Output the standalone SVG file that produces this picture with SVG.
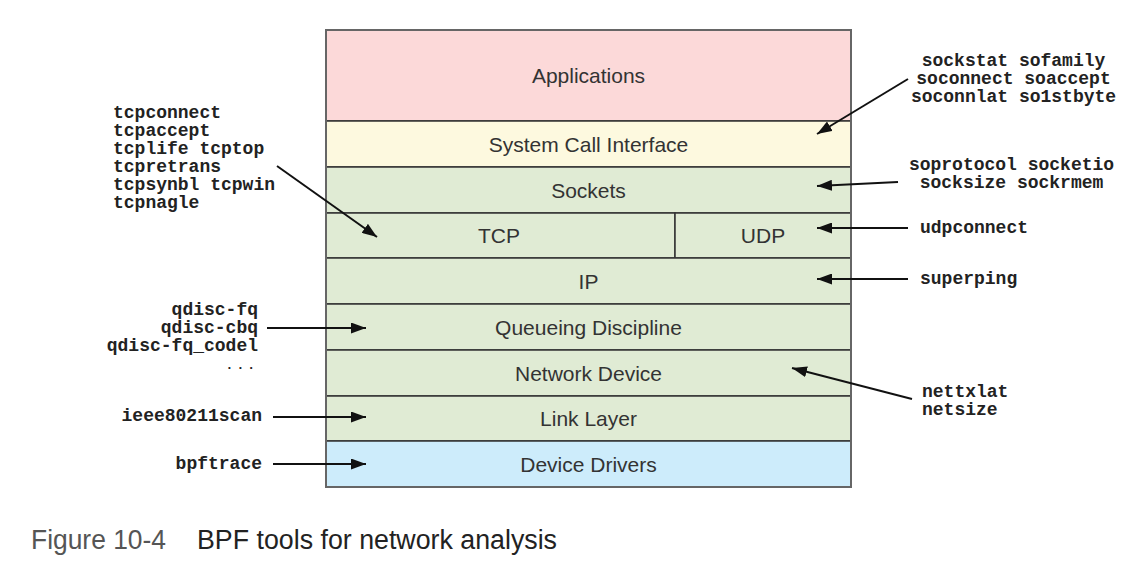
<svg xmlns="http://www.w3.org/2000/svg" width="1141" height="571" viewBox="0 0 1141 571">
<defs>
<marker id="ah" markerUnits="userSpaceOnUse" markerWidth="15" markerHeight="11" refX="15" refY="5.5" orient="auto">
<path d="M0,0 L15,5.5 L0,11 z" fill="#111"/>
</marker>
<style>
.layer{stroke:#333;stroke-width:1.5}
.lbl{font-family:"Liberation Sans",Arial,sans-serif;font-size:21px;fill:#333;text-anchor:middle}
.tool{font-family:"Liberation Mono","Courier New",monospace;font-size:18px;font-weight:bold;fill:#222}
.conn{stroke:#111;stroke-width:2;fill:none;marker-end:url(#ah)}
.cap{font-family:"Liberation Sans",Arial,sans-serif;font-size:27px}
</style>
</defs>
<rect width="1141" height="571" fill="#fff"/>

<g id="applications"><rect class="layer" x="326" y="30" width="525" height="91" fill="#fcd9d9"/><text class="lbl" x="588.5" y="83">Applications</text></g>
<g id="syscall"><rect class="layer" x="326" y="121" width="525" height="46" fill="#fdf9df"/><text class="lbl" x="588.5" y="151.5">System Call Interface</text></g>
<g id="sockets"><rect class="layer" x="326" y="167" width="525" height="46" fill="#e0ebd4"/><text class="lbl" x="588.5" y="197.5">Sockets</text></g>
<g id="tcp"><rect class="layer" x="326" y="213" width="349" height="45" fill="#e0ebd4"/><text class="lbl" x="499" y="243">TCP</text></g>
<g id="udp"><rect class="layer" x="675" y="213" width="176" height="45" fill="#e0ebd4"/><text class="lbl" x="763" y="243">UDP</text></g>
<g id="ip"><rect class="layer" x="326" y="258" width="525" height="46" fill="#e0ebd4"/><text class="lbl" x="588.5" y="288.5">IP</text></g>
<g id="qdisc"><rect class="layer" x="326" y="304" width="525" height="46" fill="#e0ebd4"/><text class="lbl" x="588.5" y="334.5">Queueing Discipline</text></g>
<g id="netdev"><rect class="layer" x="326" y="350" width="525" height="46" fill="#e0ebd4"/><text class="lbl" x="588.5" y="380.5">Network Device</text></g>
<g id="linklayer"><rect class="layer" x="326" y="396" width="525" height="45" fill="#e0ebd4"/><text class="lbl" x="588.5" y="426">Link Layer</text></g>
<g id="drivers"><rect class="layer" x="326" y="441" width="525" height="46" fill="#cdecfb"/><text class="lbl" x="588.5" y="471.5">Device Drivers</text></g>
<rect x="326" y="30" width="525" height="457" fill="none" stroke="#666" stroke-width="2"/>

<g id="tcp-tools"><text class="tool" x="113" y="118">tcpconnect</text><text class="tool" x="113" y="136">tcpaccept</text><text class="tool" x="113" y="154">tcplife tcptop</text><text class="tool" x="113" y="172">tcpretrans</text><text class="tool" x="113" y="190">tcpsynbl tcpwin</text><text class="tool" x="113" y="208">tcpnagle</text></g>
<g id="qdisc-tools"><text class="tool" x="258" y="315" text-anchor="end">qdisc-fq</text><text class="tool" x="258" y="333" text-anchor="end">qdisc-cbq</text><text class="tool" x="258" y="351" text-anchor="end">qdisc-fq_codel</text><text class="tool" x="258" y="369" text-anchor="end" style="font-size:13px;letter-spacing:3px">...</text></g>
<g id="ieee-tool"><text class="tool" x="262" y="421" text-anchor="end">ieee80211scan</text></g>
<g id="bpftrace-tool"><text class="tool" x="262" y="469" text-anchor="end">bpftrace</text></g>
<g id="sock-tools"><text class="tool" x="1013.5" y="66" text-anchor="middle">sockstat sofamily</text><text class="tool" x="1013.5" y="84" text-anchor="middle">soconnect soaccept</text><text class="tool" x="1013.5" y="102" text-anchor="middle">soconnlat so1stbyte</text></g>
<g id="sockets-tools"><text class="tool" x="1011.5" y="170" text-anchor="middle">soprotocol socketio</text><text class="tool" x="1011.5" y="188" text-anchor="middle">socksize sockrmem</text></g>
<g id="udp-tool"><text class="tool" x="920" y="233">udpconnect</text></g>
<g id="ip-tool"><text class="tool" x="920" y="284">superping</text></g>
<g id="netdev-tools"><text class="tool" x="922" y="397">nettxlat</text><text class="tool" x="922" y="415">netsize</text></g>

<g id="connectors">
<line class="conn" x1="277" y1="166" x2="377" y2="237"/>
<line class="conn" x1="267" y1="328" x2="366" y2="328"/>
<line class="conn" x1="273" y1="417" x2="366" y2="417"/>
<line class="conn" x1="273" y1="464" x2="366" y2="464"/>
<line class="conn" x1="908" y1="79" x2="817" y2="134"/>
<line class="conn" x1="898" y1="182" x2="817" y2="186"/>
<line class="conn" x1="908" y1="228" x2="817" y2="228"/>
<line class="conn" x1="908" y1="279" x2="817" y2="279"/>
<line class="conn" x1="912" y1="399" x2="792" y2="368"/>
</g>

<g id="caption"><text class="cap" x="31" y="549" fill="#555" textLength="135" lengthAdjust="spacingAndGlyphs">Figure 10-4</text><text class="cap" x="197" y="549" fill="#222" textLength="360" lengthAdjust="spacingAndGlyphs">BPF tools for network analysis</text></g>
</svg>
